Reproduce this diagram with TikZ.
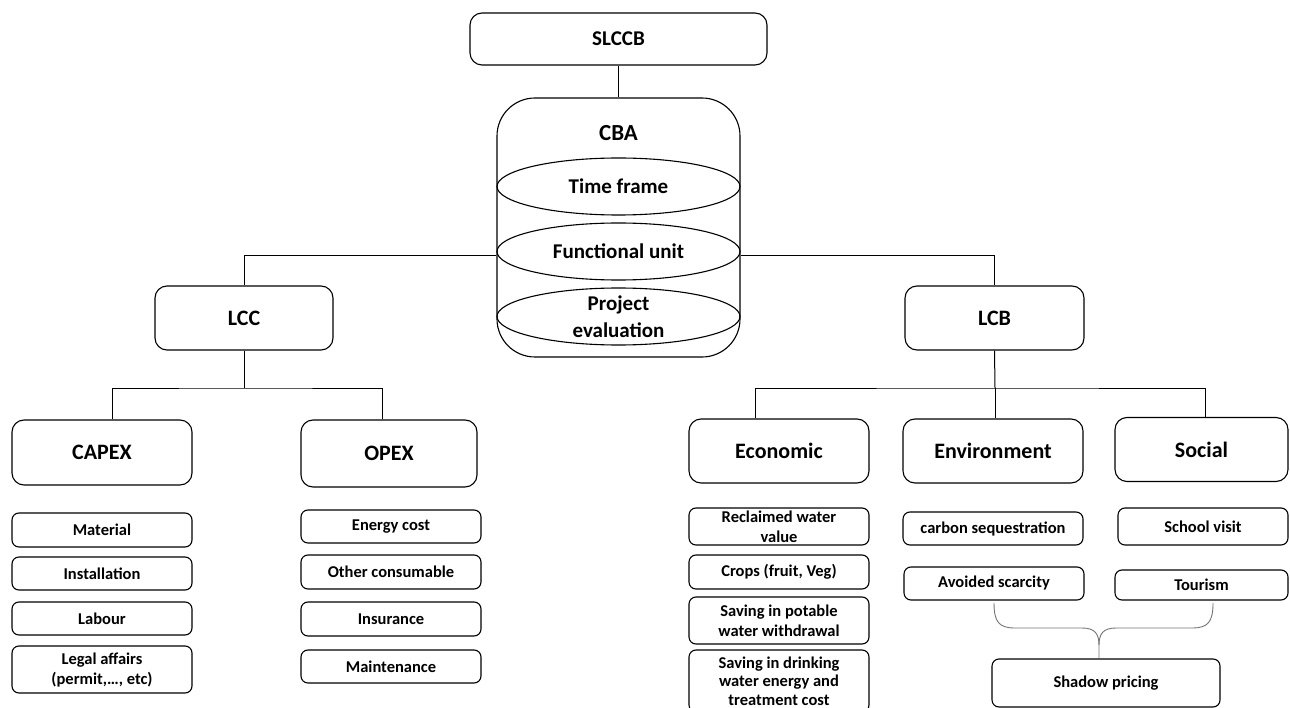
\documentclass[tikz,border=0pt]{standalone}
\usepackage{fontspec}
\setmainfont{Carlito}
\usetikzlibrary{shapes.geometric}
\begin{document}
\begin{tikzpicture}[x=1pt,y=-1pt,
  bigbox/.style={draw, rounded corners=12pt, line width=1.1pt, inner sep=0pt, align=center, font=\bfseries\fontsize{22}{26}\selectfont},
  smallbox/.style={draw, rounded corners=7pt, line width=1.1pt, inner sep=0pt, align=center, font=\bfseries\fontsize{16.5}{20}\selectfont},
  ell/.style={draw, ellipse, line width=1.1pt, inner sep=0pt, minimum width=243, minimum height=57},
  elltext/.style={inner sep=0pt, align=center, font=\bfseries\fontsize{21}{27}\selectfont},
  link/.style={line width=1pt},
  bracel/.style={line width=0.9pt, draw=black!55}
]
\useasboundingbox (0,0) rectangle (1290,708);
\clip (0,0) rectangle (1290,708);

% top
\node[bigbox, font=\bfseries\fontsize{21}{25}\selectfont, minimum width=297, minimum height=52] (slccb) at (618.5,39) {SLCCB};
\node[draw, line width=1.1pt, rounded corners=38pt, minimum width=243, minimum height=259, inner sep=0pt] (cba) at (618.5,227.5) {};
\node[elltext, font=\bfseries\fontsize{23}{27}\selectfont] (cbat) at (618.5,133) {CBA};
\node[ell] (e1) at (618.5,186.5) {};
\node[ell] (e2) at (618.5,251.5) {};
\node[ell] (e3) at (618.5,316.5) {};
\node[elltext] (t1) at (e1) {Time frame};
\node[elltext] (t2) at (e2) {Functional unit};
\node[elltext] (t3) at (618.5,317) {Project\\evaluation};

% second level
\node[bigbox, minimum width=178, minimum height=64] (lcc) at (244,318) {LCC};
\node[bigbox, minimum width=179, minimum height=64] (lcb) at (994.5,318) {LCB};

% third level left
\node[bigbox, minimum width=180, minimum height=65] (capex) at (102,452.5) {CAPEX};
\node[bigbox, minimum width=176, minimum height=67] (opex) at (389,453.5) {OPEX};

% third level right
\node[bigbox, minimum width=180, minimum height=64] (econ) at (779,451) {Economic};
\node[bigbox, minimum width=180, minimum height=64] (env) at (993,451) {Environment};
\node[bigbox, minimum width=173, minimum height=64] (soc) at (1201.5,449.5) {Social};

% CAPEX items
\node[smallbox, minimum width=180, minimum height=34] (mat) at (102,530) {Material};
\node[smallbox, minimum width=180, minimum height=33] (inst) at (102,573.5) {Installation};
\node[smallbox, minimum width=180, minimum height=33] (lab) at (102,618.5) {Labour};
\node[smallbox, minimum width=180, minimum height=47] (legal) at (102,669.5) {Legal affairs\\(permit,…, etc)};

% OPEX items
\node[smallbox, minimum width=180, minimum height=33] (energy) at (391,526.5) {Energy cost};
\node[smallbox, minimum width=180, minimum height=34] (other) at (391,572) {Other consumable};
\node[smallbox, minimum width=180, minimum height=34] (insur) at (391,619) {Insurance};
\node[smallbox, minimum width=180, minimum height=33] (maint) at (391,666.5) {Maintenance};

% Economic items
\node[smallbox, minimum width=180, minimum height=37] (recl) at (779,526.5) {Reclaimed water\\value};
\node[smallbox, minimum width=180, minimum height=34] (crops) at (779,572) {Crops (fruit, Veg)};
\node[smallbox, minimum width=180, minimum height=47] (potab) at (779,620.5) {Saving in potable\\water withdrawal};
\node[smallbox, minimum width=180, minimum height=62, font=\bfseries\fontsize{16.5}{18.5}\selectfont] (drink) at (779,681) {Saving in drinking\\water energy and\\treatment cost};

% Environment items
\node[smallbox, minimum width=180, minimum height=33] (carb) at (993,528.5) {carbon sequestration};
\node[smallbox, minimum width=180, minimum height=33] (avoid) at (994,583.5) {Avoided scarcity};

% Social items
\node[smallbox, minimum width=170, minimum height=37] (school) at (1203,526.5) {School visit};
\node[smallbox, minimum width=173, minimum height=30] (tour) at (1201.5,585) {Tourism};

% Shadow pricing
\node[smallbox, minimum width=228, minimum height=48] (shadow) at (1106,683) {Shadow pricing};

% connectors
\coordinate (cbaL) at (cba.west |- 0,256);
\coordinate (cbaR) at (cba.east |- 0,256);
\coordinate (lccbus) at (lcc.south |- 0,388);
\coordinate (lcbbus) at (995,388);

\draw[link] (slccb.south) -- (cba.north);
\draw[link] (lcc.north) |- (cbaL);
\draw[link] (cbaR) -| (lcb.north);

\draw[link] (lcc.south) -- (lccbus);
\draw[link] ([xshift=10pt]capex.north) |- (lccbus) -| ([xshift=-7pt]opex.north);

\draw[link] (lcb.south) -- (lcbbus);
\draw[link] ([xshift=-24pt]econ.north) |- (lcbbus) -| ([xshift=3.5pt]soc.north);
\draw[link] (lcbbus) -- (lcbbus |- env.north);

% brace to shadow pricing
\coordinate (bl) at (994,603);
\coordinate (br) at (1213,603);
\coordinate (btip) at (shadow.north -| 1099,0);
\draw[bracel] (bl) .. controls (994,622) and (999,628) .. (1015,628) -- (1082,628)
  .. controls (1095,628) and (1099,634) .. (1099,645) -- (btip);
\draw[bracel] (br) .. controls (1213,622) and (1208,628) .. (1192,628) -- (1116,628)
  .. controls (1103,628) and (1099,634) .. (1099,645);
\end{tikzpicture}
\end{document}
